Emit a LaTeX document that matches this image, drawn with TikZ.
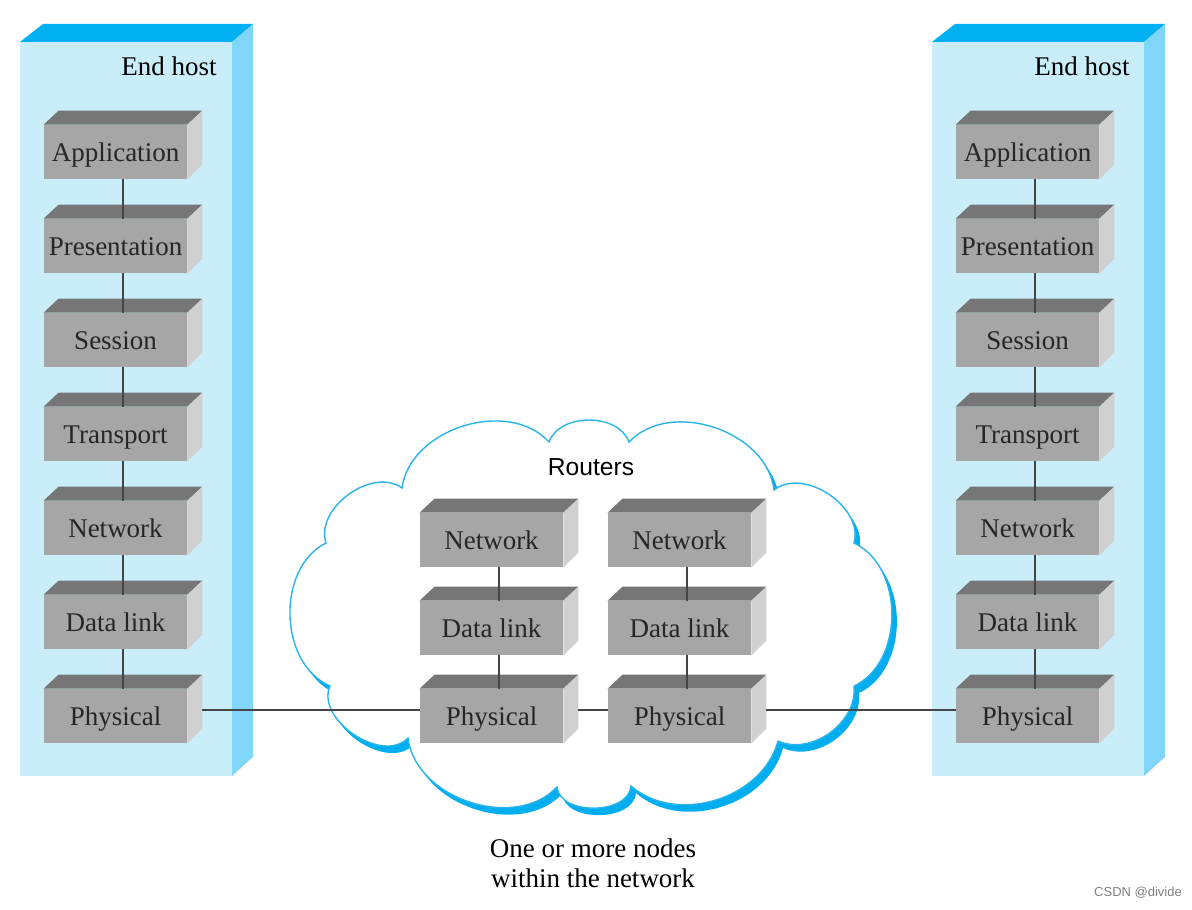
\documentclass[tikz,border=0pt]{standalone}
\usepackage{fontspec}
\setmainfont{Liberation Serif}
\setsansfont{Liberation Sans}
\usetikzlibrary{calc}
\definecolor{hostfront}{HTML}{C9EDF9}
\definecolor{hosttop}{HTML}{00B0F0}
\definecolor{hostside}{HTML}{80D6F7}
\definecolor{boxfront}{HTML}{A6A6A6}
\definecolor{boxtop}{HTML}{767676}
\definecolor{boxside}{HTML}{D0D0D0}
\definecolor{cloudline}{HTML}{29B4EC}
\definecolor{cloudshadow}{HTML}{00AEEF}
\definecolor{linkgray}{HTML}{454545}

\tikzset{
  layer/.style={fill=boxfront, minimum width=71.5pt, minimum height=27pt,
    inner sep=0pt, text height=12pt, text depth=2.8pt, text=black!85,
    font=\fontsize{13.5}{15}\selectfont},
  link/.style={draw=linkgray, line width=0.8pt},
}

% one 3d layer box: name, centre of front face, text
\newcommand{\layerbox}[3]{%
  \node[layer] (#1) at (#2) {#3};
  \fill[boxtop] (#1.north west) -- ++(15,-14) -- ($(#1.north east)+(15,-14)$) -- (#1.north east) -- cycle;
  \fill[boxside] (#1.north east) -- ++(15,-14) -- ++(0,54) -- (#1.south east) -- cycle;
}

\newcommand{\cloudpath}{(402,488) to[bend left=65] (549,442) to[bend left=70] (629,442)
  to[bend left=65] (774,490) to[bend left=72] (854,543) to[bend left=65] (854,686)
  to[bend left=60] (778,741) to[bend left=58] (631,786) to[bend left=85] (557,787)
  to[bend left=65] (408,738) to[bend left=80] (330,686) to[bend left=65] (326,543)
  to[bend left=72] (402,488) -- cycle}

\begin{document}
\begin{tikzpicture}[x=0.5pt, y=-0.5pt]
  \useasboundingbox (0,0) rectangle (1192,909);

  % end host slabs
  \foreach \x in {0,912} {
    \fill[hostfront] ({20+\x},42) rectangle ({232+\x},776);
    \fill[hosttop] ({20+\x},42) -- ({43+\x},24) -- ({253+\x},24) -- ({232+\x},42) -- cycle;
    \fill[hostside] ({232+\x},42) -- ({253+\x},24) -- ({253+\x},757) -- ({232+\x},776) -- cycle;
  }
  \node[font=\fontsize{13.5}{15}\selectfont] (hostl) at (169,66) {End host};
  \node[font=\fontsize{13.5}{15}\selectfont] (hostr) at (1082,66) {End host};

  % the cloud
  \fill[cloudshadow, shift={(5,7)}] \cloudpath;
  \filldraw[fill=white, draw=cloudline, line width=0.7pt] \cloudpath;
  \node[font=\sffamily\fontsize{12.3}{14}\selectfont] (routers) at (591,467) {Routers};

  % host stacks
  \foreach \t [count=\i] in {Application,Presentation,Session,Transport,Network,Data link,Physical} {
    \layerbox{l\i}{115.5,{152+94*(\i-1)}}{\t}
    \layerbox{r\i}{1027.5,{152+94*(\i-1)}}{\t}
  }
  % router stacks
  \foreach \t [count=\i] in {Network,Data link,Physical} {
    \layerbox{a\i}{491.5,{540+88*(\i-1)}}{\t}
    \layerbox{b\i}{679.5,{540+88*(\i-1)}}{\t}
  }

  % links
  \foreach \i [evaluate=\i as \j using int(\i+1)] in {1,...,6} {
    \draw[link] ($(l\i.south)+(7.5,0)$) -- ($(l\j.north)+(7.5,0)$);
    \draw[link] ($(r\i.south)+(7.5,0)$) -- ($(r\j.north)+(7.5,0)$);
  }
  \foreach \i [evaluate=\i as \j using int(\i+1)] in {1,2} {
    \draw[link] ($(a\i.south)+(7.5,0)$) -- ($(a\j.north)+(7.5,0)$);
    \draw[link] ($(b\i.south)+(7.5,0)$) -- ($(b\j.north)+(7.5,0)$);
  }
  \draw[link] ($(l7.east)+(15,-6)$) -- ($(a3.west)+(0,-6)$);
  \draw[link] ($(a3.east)+(15,-6)$) -- ($(b3.west)+(0,-6)$);
  \draw[link] ($(b3.east)+(15,-6)$) -- ($(r7.west)+(0,-6)$);

  \node[align=center, font=\fontsize{13.5}{15}\selectfont] (nodes) at (593,863) {One or more nodes\\within the network};
  \node[font=\sffamily\fontsize{6.5}{7}\selectfont, text=black!50] (mark) at (1138,893) {CSDN @divide};
\end{tikzpicture}
\end{document}
